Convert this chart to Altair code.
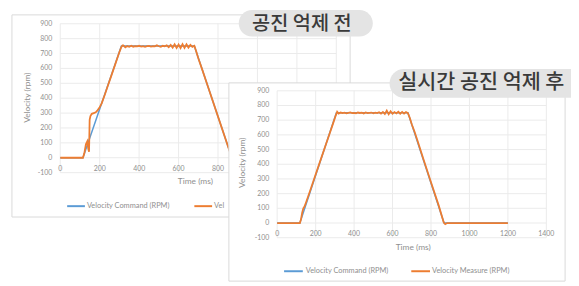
import altair as alt
import pandas as pd

# ---------------- data ----------------
time_cmd_before = [0, 115, 310, 680, 870, 1200]
cmd_before = [0, 0, 750, 750, 0, 0]

time_meas_before = [0, 115, 122, 130, 137, 142, 146, 149, 153, 160, 170, 180, 190, 200, 210,
                    225, 240, 260, 280, 300, 310, 316,
                    320, 330, 340, 350, 360, 370, 380, 390, 400, 410, 420, 430, 440, 450, 460,
                    470, 480, 490, 500, 510, 520, 530, 540, 550, 560, 570, 580, 590, 600, 610,
                    620, 630, 640, 650, 660, 670, 680,
                    690, 700, 720, 750, 800, 850, 870, 878, 890, 1200]
meas_before = [0, 0, 30, 90, 110, 60, 40, 255, 280, 295, 300, 305, 320, 340, 365,
               420, 478, 555, 632, 710, 745, 755,
               755, 742, 750, 745, 752, 746, 750, 748, 752, 747, 750, 745, 749, 751, 746,
               750, 748, 755, 749, 745, 752, 748, 755, 743, 758, 740, 762, 738, 760, 737,
               763, 738, 762, 740, 758, 745, 752,
               712, 668, 592, 474, 276, 79, 2, -5, 0, 0]

time_cmd_after = [0, 118, 308, 680, 868, 1200]
cmd_after = [0, 0, 750, 750, 0, 0]

time_meas_after = [0, 118, 124, 130, 136, 142, 150, 170, 200, 230, 260, 290, 305, 312,
                   320, 330, 340, 350, 360, 370, 380, 390, 400, 410, 420, 430, 440, 450, 460,
                   470, 480, 490, 500, 510, 520, 530, 540, 550, 560, 570, 580, 590, 600, 610,
                   620, 630, 640, 650, 660, 670, 680,
                   690, 700, 715, 730, 760, 800, 840, 866, 874, 884, 900, 1200]
meas_after = [0, 0, 25, 70, 100, 112, 140, 215, 330, 445, 560, 675, 733, 758,
              745, 752, 748, 751, 747, 750, 753, 748, 750, 747, 752, 749, 751, 746, 753,
              748, 750, 752, 747, 751, 748, 754, 745, 756, 742, 765, 740, 760, 744, 755,
              746, 757, 744, 756, 745, 755, 748,
              715, 672, 620, 560, 438, 278, 120, 5, -8, 0, 0, 0]

x_ticks = [0, 200, 400, 600, 800, 1000, 1200, 1400]
y_ticks = [-100, 0, 100, 200, 300, 400, 500, 600, 700, 800, 900]
series_names = ["Velocity Command (RPM)", "Velocity Measure (RPM)"]
x_title = "Time (ms)"
y_title = "Velocity (rpm)"
panel_titles = ["공진 억제 전", "실시간 공진 억제 후"]

# ---------------- style ----------------
BLUE = "#5B9BD5"
ORANGE = "#ED7D31"
GRID = "#ebebeb"
BORDER = "#d9d9d9"
TICK = "#8f8f8f"
FONT = "Lato"
KFONT = "Noto Sans CJK KR"

xdf = pd.DataFrame({"t": x_ticks, "lab": [str(v) for v in x_ticks]})
ydf = pd.DataFrame({"v": y_ticks, "lab": [str(v) for v in y_ticks]})
one = pd.DataFrame({"k": [0]})

# layout (pixels inside the chart); panel 1 is partly covered by panel 2
P1 = dict(box=(4, 5, 347, 210), x0=53, x1=333, yb=165, yt=14, ylab_x=45, xlab_y=161,
          xlab_max=800, xt=(190, 174), yt_=(19, 89), leg_y=199,
          leg=(60, 78, 80, 189, 207, 209), leg2_limit=16)
P2 = dict(box=(224, 74, 565, 275), x0=273, x1=546, yb=231, yt=82, ylab_x=265, xlab_y=227,
          xlab_max=1400, xt=(411, 240), yt_=(237, 155), leg_y=265,
          leg=(280, 299, 302, 409, 428, 430), leg2_limit=0)


def panel(p, tc, vc, tm, vm):
    xs = alt.Scale(domain=[0, 1400], range=[p["x0"], p["x1"]], nice=False, zero=False)
    ys = alt.Scale(domain=[-100, 900], range=[p["yb"], p["yt"]], nice=False, zero=False)
    bx0, by0, bx1, by1 = p["box"]
    box = alt.Chart(one).mark_rect(fill="white", stroke=BORDER, strokeWidth=1).encode(
        x=alt.value(bx0), x2=alt.value(bx1), y=alt.value(by0), y2=alt.value(by1))
    hgrid = alt.Chart(ydf).mark_rule(color=GRID, strokeWidth=1).encode(
        y=alt.Y("v:Q", scale=ys, axis=None), x=alt.value(p["x0"]), x2=alt.value(p["x1"]))
    vgrid = alt.Chart(xdf).mark_rule(color=GRID, strokeWidth=1).encode(
        x=alt.X("t:Q", scale=xs, axis=None), y=alt.value(p["yt"]), y2=alt.value(p["yb"]))
    ylabels = alt.Chart(ydf).mark_text(align="right", baseline="middle", fontSize=7,
                                       color=TICK, font=FONT).encode(
        y=alt.Y("v:Q", scale=ys, axis=None), x=alt.value(p["ylab_x"]), text="lab:N")
    xlabels = alt.Chart(xdf).transform_filter(
        alt.datum.t <= p["xlab_max"]
    ).mark_text(align="center", baseline="middle", fontSize=7,
                color=TICK, font=FONT).encode(
        x=alt.X("t:Q", scale=xs, axis=None), y=alt.value(p["xlab_y"]), text="lab:N")
    cdf = pd.DataFrame({"t": tc, "v": vc})
    mdf = pd.DataFrame({"t": tm, "v": vm})
    cline = alt.Chart(cdf).mark_line(color=BLUE, strokeWidth=1.5).encode(
        x=alt.X("t:Q", scale=xs, axis=None), y=alt.Y("v:Q", scale=ys, axis=None))
    mline = alt.Chart(mdf).mark_line(color=ORANGE, strokeWidth=1.8).encode(
        x=alt.X("t:Q", scale=xs, axis=None), y=alt.Y("v:Q", scale=ys, axis=None))
    xt = alt.Chart(one).mark_text(text=x_title, fontSize=8.5, color=TICK, font=FONT,
                                  baseline="middle").encode(
        x=alt.value(p["xt"][0]), y=alt.value(p["xt"][1]))
    yt = alt.Chart(one).mark_text(text=y_title, fontSize=8.5, color=TICK, font=FONT,
                                  angle=270, baseline="middle").encode(
        x=alt.value(p["yt_"][0]), y=alt.value(p["yt_"][1]))
    l = p["leg"]
    t2_kw = dict(text=series_names[1], fontSize=7.5, color=TICK, font=FONT,
                 align="left", baseline="middle")
    if p["leg2_limit"]:
        t2_kw.update(limit=p["leg2_limit"], ellipsis=" ")
    leg = [
        alt.Chart(one).mark_rule(color=BLUE, strokeWidth=2).encode(
            x=alt.value(l[0]), x2=alt.value(l[1]), y=alt.value(p["leg_y"])),
        alt.Chart(one).mark_text(text=series_names[0], fontSize=7.5, color=TICK, font=FONT,
                                 align="left", baseline="middle").encode(
            x=alt.value(l[2]), y=alt.value(p["leg_y"])),
        alt.Chart(one).mark_rule(color=ORANGE, strokeWidth=2).encode(
            x=alt.value(l[3]), x2=alt.value(l[4]), y=alt.value(p["leg_y"])),
        alt.Chart(one).mark_text(**t2_kw).encode(
            x=alt.value(l[5]), y=alt.value(p["leg_y"])),
    ]
    return [box, hgrid, vgrid, ylabels, xlabels, cline, mline, xt, yt] + leg


def pill(x0, x1, y0, y1, tx, ty, txt, size):
    bg = alt.Chart(one).mark_rect(fill="#e4e4e4", cornerRadius=(y1 - y0) / 2).encode(
        x=alt.value(x0), x2=alt.value(x1), y=alt.value(y0), y2=alt.value(y1))
    t = alt.Chart(one).mark_text(text=txt, fontSize=size, fontWeight=500, color="#3a3a3a",
                                 font=KFONT, align="center", baseline="middle").encode(
        x=alt.value(tx), y=alt.value(ty))
    return [bg, t]


layers = (panel(P1, time_cmd_before, cmd_before, time_meas_before, meas_before)
          + pill(234, 370, 0, 27, 298, 14, panel_titles[0], 20)
          + panel(P2, time_cmd_after, cmd_after, time_meas_after, meas_after)
          + pill(387, 610, 60, 89, 480, 74, panel_titles[1], 21))

chart = alt.layer(*layers).resolve_scale(x="independent", y="independent").properties(
    width=571, height=278, padding=0, autosize="none"
).configure_view(stroke=None)

chart.save("out.html", embed_options={"renderer": "svg", "actions": False})
